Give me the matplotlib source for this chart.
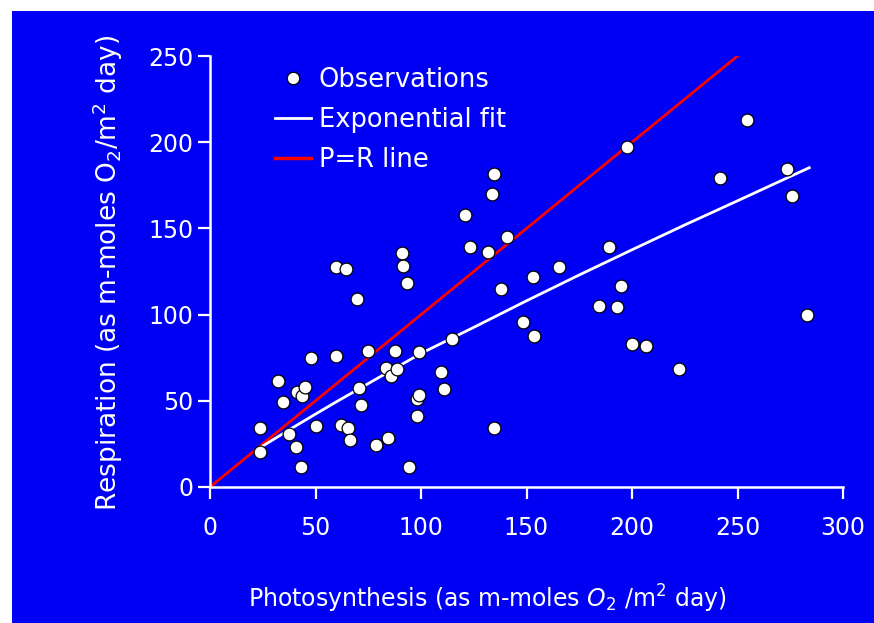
import matplotlib
matplotlib.use("Agg")
import matplotlib.pyplot as plt
from matplotlib.patches import Rectangle
from matplotlib.lines import Line2D

# observations
photo = [23.8, 23.8, 32.2, 34.5, 37.6, 40.8, 43.3, 41.4, 43.5, 45.2,
         47.9, 50.2, 59.9, 64.3, 69.8, 59.7, 62.2, 65.3, 66.4, 70.8,
         71.7, 75.0, 78.7, 84.5, 83.4, 85.8, 88.5, 87.8, 90.9, 91.3,
         93.2, 99.2, 94.5, 98.2, 98.9, 98.2, 109.5, 110.9, 114.5, 134.7,
         133.5, 121.0, 123.4, 131.6, 140.6, 138.1, 134.7, 148.5, 153.6, 152.9,
         165.3, 197.8, 254.6, 241.7, 273.3, 275.7, 189.1, 194.8, 184.5, 192.9,
         282.9, 199.9, 206.8, 222.4]
resp = [34.4, 20.1, 61.3, 49.5, 30.7, 23.4, 11.8, 55.3, 52.8, 57.8,
        75.0, 35.4, 127.8, 126.3, 109.2, 76.2, 36.0, 34.2, 27.4, 57.3,
        47.6, 79.1, 24.4, 28.6, 69.0, 64.4, 68.3, 79.1, 135.6, 128.2,
        118.5, 78.1, 11.8, 50.9, 53.4, 41.2, 66.5, 56.8, 85.8, 181.4,
        169.8, 157.8, 139.4, 136.1, 144.8, 114.7, 34.2, 95.5, 87.6, 121.8,
        127.8, 197.4, 212.9, 179.4, 184.5, 169.0, 139.2, 116.8, 105.2, 104.6,
        99.8, 82.8, 82.0, 68.3]

# exponential fit curve
fit_x = [24.5, 40, 50, 60, 80, 100, 125, 150, 175, 200, 225, 250, 284]
fit_y = [23.4, 35.0, 42.3, 49.5, 63.5, 77.5, 92.6, 108.0, 123.0, 137.6, 152.0, 166.0, 185.2]

# P=R line
pr_x = [0, 250]
pr_y = [0, 250]

xticks = [0, 50, 100, 150, 200, 250, 300]
yticks = [0, 50, 100, 150, 200, 250]

blue = "#0000F5"

fig = plt.figure(figsize=(8.74, 6.23), dpi=100)
fig.patch.set_facecolor("white")
fig.patches.append(Rectangle((12 / 874, 0), 1, 1 - 11 / 623, transform=fig.transFigure,
                             facecolor=blue, edgecolor="none", zorder=-10))

ax = fig.add_axes([210 / 874, 1 - 487 / 623, 633 / 874, 431 / 623])
ax.patch.set_visible(False)

ax.plot(pr_x, pr_y, color="#FF0000", lw=2.0, zorder=2)
ax.plot(fit_x, fit_y, color="white", lw=2.0, zorder=3)
ax.scatter(photo, resp, s=85, facecolor="white", edgecolor="black", linewidth=0.9, zorder=4)

ax.set_xlim(0, 300)
ax.set_ylim(0, 250)
ax.set_xticks(xticks)
ax.set_yticks(yticks)

for s in ["top", "right"]:
    ax.spines[s].set_visible(False)
for s in ["left", "bottom"]:
    ax.spines[s].set_color("white")
    ax.spines[s].set_linewidth(1.8)

ax.tick_params(axis="both", colors="white", direction="out", length=8.6, width=1.6,
               labelsize=17)
ax.tick_params(axis="x", pad=12)
ax.tick_params(axis="y", pad=3.5)

ax.set_xlabel(r"Photosynthesis (as m-moles $O_2$ /m$^2$ day)", color="white",
              fontsize=17, va="center")
ax.xaxis.set_label_coords(0.438, -0.26)
ax.set_ylabel(r"Respiration (as m-moles O$_2$/m$^2$ day)", color="white",
              fontsize=19, va="center")
ax.yaxis.set_label_coords(-0.161, 0.498)

handles = [
    Line2D([], [], ls="none", marker="o", markersize=9, markerfacecolor="white",
           markeredgecolor="black", markeredgewidth=0.9),
    Line2D([], [], color="white", lw=2.0),
    Line2D([], [], color="#FF0000", lw=2.5),
]
labels = ["Observations", "Exponential fit", "P=R line"]
leg = ax.legend(handles, labels, loc="upper left", bbox_to_anchor=(0.1027, 0.975),
                frameon=False, fontsize=18.5, handlelength=1.4, handletextpad=0.3,
                labelspacing=0.55, borderaxespad=0, borderpad=0)
for t in leg.get_texts():
    t.set_color("white")

fig.savefig("out.png", dpi=100)
